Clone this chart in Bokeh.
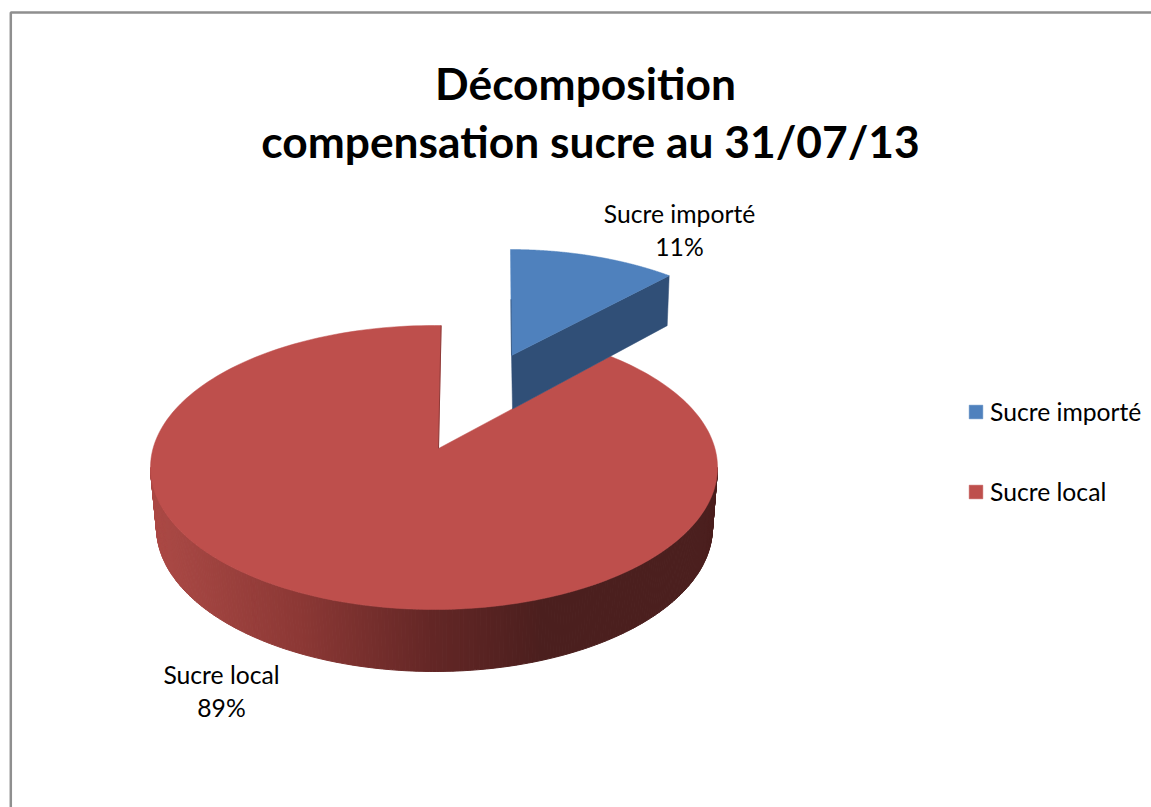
import numpy as np
from bokeh.plotting import figure
from bokeh.models import Range1d, Legend, LegendItem
from bokeh.core.properties import value
from bokeh.embed import file_html
from bokeh.resources import INLINE

title_lines = ["Décomposition", "compensation sucre au 31/07/13"]
categories = ["Sucre importé", "Sucre local"]
shares = [11, 89]

FONT = value("Lato")
TOP_COLORS = {"Sucre importé": "#4F81BD", "Sucre local": "#BE4F4C"}
FACE_BLUE = "#304F77"

# projection of each exploded slice: cut apex, top-face ellipse, tilt and squash of the rays
GEOM = {
    "Sucre importé": dict(apex=(511.0, 355.0), c=(509.0, 384.0), r=(270.0, 135.0), tilt=-0.004, b=0.417, depth=52),
    "Sucre local": dict(apex=(438.0, 448.0), c=(433.5, 467.0), r=(283.5, 142.0), tilt=0.0096, b=0.449, depth=60),
}
RED_BOTTOM = dict(c=(434.0, 527.0), r=(278.0, 144.0))


def ray_to_ellipse(g, theta):
    dx = np.sin(theta) + g["tilt"] * np.cos(theta)
    dy = -np.cos(theta) * g["b"]
    ax, ay = g["apex"][0] - g["c"][0], g["apex"][1] - g["c"][1]
    rx, ry = g["r"]
    A = (dx / rx) ** 2 + (dy / ry) ** 2
    B = 2 * (ax * dx / rx**2 + ay * dy / ry**2)
    C = (ax / rx) ** 2 + (ay / ry) ** 2 - 1
    s = (-B + np.sqrt(B * B - 4 * A * C)) / (2 * A)
    return ax + s * dx, ay + s * dy


def ellipse_param(g, theta):
    x, y = ray_to_ellipse(g, theta)
    return np.arctan2(x / g["r"][0], -y / g["r"][1])


def top_face(g, th0, th1):
    t0 = ellipse_param(g, th0)
    t1 = ellipse_param(g, th1)
    while t1 <= t0:
        t1 += 2 * np.pi
    t = np.linspace(t0, t1, 240)
    xs = g["c"][0] + g["r"][0] * np.sin(t)
    ys = g["c"][1] - g["r"][1] * np.cos(t)
    return [g["apex"][0], *xs], [g["apex"][1], *ys]


def side_colour(x):
    stops_x = [150, 300, 430, 545, 720]
    stops = np.array([[172, 74, 70], [140, 56, 53], [100, 39, 38], [75, 31, 30], [75, 31, 30]])
    rgb = [int(np.interp(x, stops_x, stops[:, i])) for i in range(3)]
    return "#%02x%02x%02x" % tuple(rgb)


p = figure(width=1151, height=807, x_range=Range1d(0, 1151), y_range=Range1d(807, 0),
           toolbar_location=None, output_backend="svg", min_border=0,
           outline_line_color=None, background_fill_color="white", border_fill_color="white")
p.axis.visible = False
p.grid.visible = False

# chart-area frame
p.line([10.3, 10.3, 1151], [807, 12, 12], line_color="#8f8f8f", line_width=2.5)

total = sum(shares)
angles = np.cumsum([0] + shares) / total * 2 * np.pi

# red slice: side wall, then top
red = GEOM["Sucre local"]
rt = np.linspace(np.pi / 2, 3 * np.pi / 2, 260)
xa = red["c"][0] + red["r"][0] * np.sin(rt)
ya = red["c"][1] - red["r"][1] * np.cos(rt)
xb = RED_BOTTOM["c"][0] + RED_BOTTOM["r"][0] * np.sin(rt)
yb = RED_BOTTOM["c"][1] - RED_BOTTOM["r"][1] * np.cos(rt)
sx, sy, sc = [], [], []
for i in range(len(rt) - 1):
    sx.append([xa[i], xa[i + 1], xb[i + 1], xb[i]])
    sy.append([ya[i], ya[i + 1], yb[i + 1], yb[i]])
    sc.append(side_colour((xa[i] + xa[i + 1]) / 2))
p.patches(sx, sy, fill_color=sc, line_color=sc, line_width=1)

rx_, ry_ = top_face(red, angles[1], angles[2])
red_r = p.patch(rx_, ry_, fill_color=TOP_COLORS["Sucre local"], line_color=TOP_COLORS["Sucre local"], line_width=0.5)
# shaded inner cut along the wedge's vertical edge
p.line([rx_[-1], red["apex"][0]], [ry_[-1], red["apex"][1]], line_color="#8e3a38", line_width=1)

# blue slice: cut face, then top
blue = GEOM["Sucre importé"]
bx_, by_ = top_face(blue, angles[0], angles[1])
ex, ey = bx_[-1], by_[-1]
ax_, ay_ = blue["apex"]
d = blue["depth"]
p.patch([ax_, ex, ex - 2, ax_ + 1], [ay_, ey, ey + d - 2, ay_ + d + 1.5],
        fill_color=FACE_BLUE, line_color=FACE_BLUE, line_width=0.5)
blue_r = p.patch(bx_, by_, fill_color=TOP_COLORS["Sucre importé"], line_color=TOP_COLORS["Sucre importé"], line_width=0.5)
# thin shaded edge on the lower part of the slice's left cut
frac = 0.47
p.line([bx_[1] + (ax_ - bx_[1]) * frac, ax_], [by_[1] + (ay_ - by_[1]) * frac, ay_], line_color=FACE_BLUE, line_width=0.8)

# title
p.text([585, 590], [82, 140], text=title_lines, text_font=FONT, text_font_style="bold",
       text_font_size="44.3px", text_color="#000000", text_align="center", text_baseline="alphabetic")

# data labels
label_x = [679, 221]
label_y = [213, 674]
pct = ["%d%%" % round(v / total * 100) for v in shares]
p.text(label_x, label_y, text=categories, text_font=FONT, text_font_size="24.7px", text_color="#000000",
       text_align="center", text_baseline="alphabetic")
p.text(label_x, [y + 33 for y in label_y], text=pct, text_font=FONT, text_font_size="24.7px", text_color="#000000",
       text_align="center", text_baseline="alphabetic")

legend = Legend(items=[LegendItem(label=categories[0], renderers=[blue_r]),
                       LegendItem(label=categories[1], renderers=[red_r])],
                location=(967, 301), orientation="vertical",
                glyph_width=17, glyph_height=17, label_standoff=6, spacing=51, padding=0, margin=0,
                label_text_font="Lato", label_text_font_size="24.7px", label_text_color="#000000",
                background_fill_alpha=0, border_line_color=None)
p.add_layout(legend, "center")

open("out.html", "w").write(file_html(p, INLINE))
